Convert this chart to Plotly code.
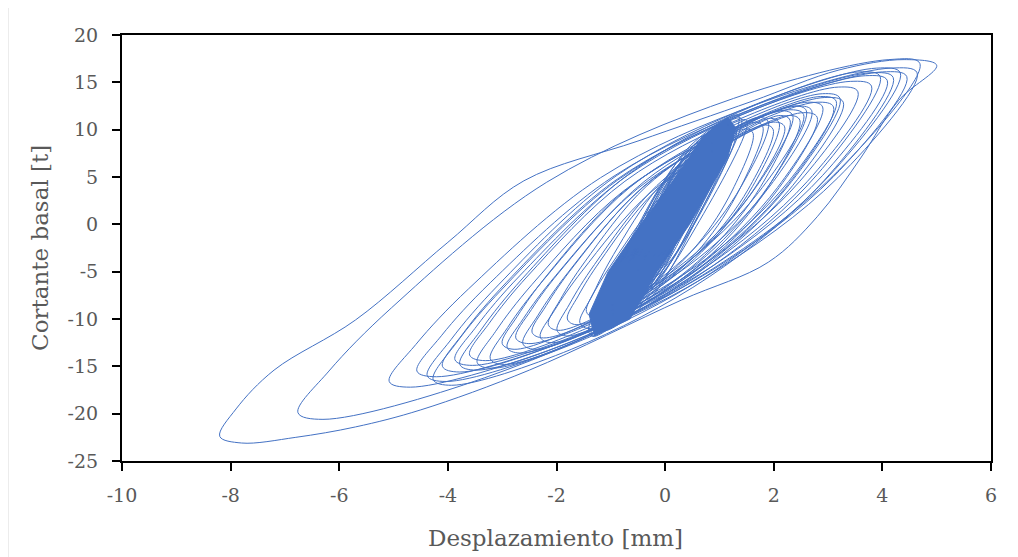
import plotly.graph_objects as go

# ---- data (displacement in mm, base shear in t) ----
# two outermost hysteresis loops
outer_disp = [-8.2, -7.8, -6.8, -5.7, -4.5, -2.5, 0.3, 1.9, 2.8, 3.6, 4.3, 5.0, 4.4, 3.2, 1.6, -0.5, -2.6, -4.0, -5.7, -7.2, -7.9, -8.2, None,
              -6.76, -6.30, -3.32, 0.11, 2.97, 4.69, 4.12, 1.26, -2.18, -5.04, -6.19, -6.76, None]
outer_shear = [-22.4, -23.1, -22.5, -21.4, -19.6, -15.4, -8.0, -4.0, 0.8, 7.0, 13.1, 16.8, 17.4, 16.3, 13.0, 8.8, 4.6, -1.9, -10.1, -15.4, -19.5, -22.4, None,
               -19.9, -20.6, -16.2, -7.35, 4.45, 17.0, 17.4, 13.3, 4.45, -8.83, -15.5, -19.9, None]

# intermediate loops
mid_disp = [
    -5.08, -4.69, -2.16, 0.75, 3.18, 4.64, 4.15, 1.72, -1.19, -3.62, -4.59, -5.08, None,
    -4.57, -4.21, -1.86, 0.84, 3.10, 4.45, 4.0, 1.74, -0.96, -3.22, -4.12, -4.57, None,
    -4.38, -4.03, -1.77, 0.85, 3.02, 4.33, 3.89, 1.72, -0.90, -3.07, -3.94, -4.38, None,
    -4.27, -3.93, -1.73, 0.81, 2.93, 4.2, 3.78, 1.66, -0.88, -3.0, -3.85, -4.27, None,
    -4.1, -3.78, -1.73, 0.64, 2.62, 3.8, 3.41, 1.43, -0.94, -2.92, -3.71, -4.1, None,
    -3.87, -3.55, -1.48, 0.91, 2.90, 4.09, 3.69, 1.70, -0.69, -2.68, -3.47, -3.87, None,
    -3.78, -3.47, -1.46, 0.86, 2.80, 3.96, 3.57, 1.64, -0.68, -2.62, -3.39, -3.78, None,
    -3.6, -3.31, -1.46, 0.69, 2.48, 3.55, 3.19, 1.41, -0.74, -2.53, -3.24, -3.6, None,
    -3.46, -3.19, -1.44, 0.58, 2.27, 3.28, 2.94, 1.26, -0.76, -2.45, -3.12, -3.46, None,
    -3.22, -2.96, -1.29, 0.64, 2.25, 3.22, 2.90, 1.29, -0.64, -2.25, -2.90, -3.22, None,
    -3.0, -2.78, -1.34, 0.33, 1.72, 2.55, 2.27, 0.89, -0.78, -2.17, -2.72, -3.0, None,
    -2.91, -2.67, -1.11, 0.70, 2.20, 3.1, 2.80, 1.30, -0.51, -2.01, -2.61, -2.91, None,
    -2.75, -2.51, -0.98, 0.79, 2.27, 3.15, 2.86, 1.38, -0.39, -1.87, -2.46, -2.75, None,
    -2.62, -2.40, -0.96, 0.69, 2.07, 2.9, 2.62, 1.24, -0.41, -1.79, -2.34, -2.62, None,
    -2.45, -2.24, -0.91, 0.64, 1.93, 2.7, 2.44, 1.16, -0.39, -1.68, -2.19, -2.45, None,
    -2.3, -2.10, -0.77, 0.76, 2.04, 2.8, 2.55, 1.27, -0.26, -1.53, -2.04, -2.3, None,
    -2.15, -1.97, -0.80, 0.55, 1.68, 2.35, 2.13, 1.0, -0.35, -1.48, -1.93, -2.15, None,
    -1.99, -1.81, -0.61, 0.76, 1.91, 2.6, 2.37, 1.22, -0.15, -1.30, -1.76, -1.99, None,
    -1.8, -1.64, -0.6, 0.6, 1.6, 2.2, 2.0, 1.0, -0.2, -1.2, -1.6, -1.8, None,
    -1.57, -1.41, -0.35, 0.86, 1.87, 2.48, 2.28, 1.27, 0.05, -0.96, -1.37, -1.57, None,
    -1.45, -1.32, -0.45, 0.56, 1.40, 1.9, 1.73, 0.90, -0.11, -0.95, -1.28, -1.45, None,
    -1.33, -1.18, -0.24, 0.85, 1.76, 2.3, 2.12, 1.21, 0.12, -0.79, -1.15, -1.33, None,
    -1.2, -1.07, -0.21, 0.78, 1.61, 2.1, 1.94, 1.11, 0.12, -0.70, -1.03, -1.2, None,
    -1.1, -0.98, -0.17, 0.75, 1.53, 1.99, 1.84, 1.06, 0.14, -0.64, -0.95, -1.1, None,
    -1.0, -0.89, -0.16, 0.68, 1.38, 1.8, 1.66, 0.96, 0.12, -0.58, -0.86, -1.0, None,
    -0.9, -0.80, -0.14, 0.61, 1.24, 1.62, 1.49, 0.86, 0.11, -0.52, -0.77, -0.9, None,
]
mid_shear = [
    -16.6, -17.2, -13.34, -5.52, 4.92, 16.0, 16.5, 12.74, 4.92, -6.82, -12.69, -16.6, None,
    -15.5, -16.1, -12.39, -4.93, 5.03, 15.6, 16.1, 12.49, 5.03, -6.17, -11.77, -15.5, None,
    -16.0, -16.6, -12.8, -5.12, 5.12, 16.0, 16.5, 12.8, 5.12, -6.4, -12.16, -16.0, None,
    -16.4, -17.0, -13.21, -5.55, 4.65, 15.5, 16.0, 12.31, 4.65, -6.83, -12.57, -16.4, None,
    -15.0, -15.6, -12.04, -4.94, 4.54, 14.6, 15.1, 11.64, 4.54, -6.12, -11.45, -15.0, None,
    -14.3, -14.9, -11.35, -4.27, 5.17, 15.2, 15.7, 12.25, 5.17, -5.45, -10.76, -14.3, None,
    -14.8, -15.4, -11.76, -4.46, 5.26, 15.6, 16.1, 12.56, 5.26, -5.68, -11.15, -14.8, None,
    -13.8, -14.4, -11.02, -4.35, 4.55, 14.0, 14.5, 11.22, 4.55, -5.46, -10.46, -13.8, None,
    -14.6, -15.2, -11.85, -5.25, 3.55, 12.9, 13.4, 10.15, 3.55, -6.35, -11.3, -14.6, None,
    -14.2, -14.8, -11.45, -4.85, 3.95, 13.3, 13.8, 10.55, 3.95, -5.95, -10.9, -14.2, None,
    -12.6, -13.2, -10.18, -4.37, 3.37, 11.6, 12.1, 9.18, 3.37, -5.34, -9.7, -12.6, None,
    -13.0, -13.6, -10.46, -4.36, 3.76, 12.4, 12.9, 9.86, 3.76, -5.38, -9.95, -13.0, None,
    -12.0, -12.6, -9.5, -3.5, 4.5, 13.0, 13.5, 10.5, 4.5, -4.5, -9.0, -12.0, None,
    -12.6, -13.2, -10.1, -4.1, 3.9, 12.4, 12.9, 9.9, 3.9, -5.1, -9.6, -12.6, None,
    -11.4, -12.0, -9.06, -3.44, 4.04, 12.0, 12.5, 9.66, 4.04, -4.38, -8.59, -11.4, None,
    -11.9, -12.5, -9.58, -4.01, 3.41, 11.3, 11.8, 8.98, 3.41, -4.94, -9.12, -11.9, None,
    -10.6, -11.2, -8.39, -3.09, 3.99, 11.5, 12.0, 9.29, 3.99, -3.97, -7.95, -10.6, None,
    -11.2, -11.8, -8.88, -3.31, 4.11, 12.0, 12.5, 9.68, 4.11, -4.24, -8.42, -11.2, None,
    -10.0, -10.6, -7.97, -3.1, 3.4, 10.3, 10.8, 8.27, 3.4, -3.91, -7.56, -10.0, None,
    -10.4, -11.0, -8.26, -3.12, 3.72, 11.0, 11.5, 8.86, 3.72, -3.98, -7.83, -10.4, None,
    -9.2, -9.8, -7.2, -2.4, 4.0, 10.8, 11.3, 8.8, 4.0, -3.2, -6.8, -9.2, None,
    -9.6, -10.2, -7.54, -2.6, 4.0, 11.0, 11.5, 8.94, 4.0, -3.42, -7.13, -9.6, None,
    -9.0, -9.6, -7.03, -2.3, 4.0, 10.7, 11.2, 8.73, 4.0, -3.09, -6.64, -9.0, None,
    -8.5, -9.1, -6.65, -2.21, 3.71, 10.0, 10.5, 8.15, 3.71, -2.95, -6.28, -8.5, None,
    -8.8, -9.4, -6.89, -2.31, 3.81, 10.3, 10.8, 8.39, 3.81, -3.07, -6.51, -8.8, None,
    -8.0, -8.6, -6.24, -2.02, 3.62, 9.6, 10.1, 7.84, 3.62, -2.72, -5.89, -8.0, None,
]

# small loops of the dense core
core_disp = [
    -1.3, -0.43, 0.40, 1.2, 0.33, -0.48, -1.3, None,
    -1.1, -0.23, 0.60, 1.4, 0.53, -0.28, -1.1, None,
    -0.9, -0.24, 0.39, 1.0, 0.34, -0.27, -0.9, None,
    -1.2, -0.40, 0.36, 1.1, 0.30, -0.44, -1.2, None,
    -0.7, -0.14, 0.42, 0.9, 0.34, -0.17, -0.7, None,
    -1.0, -0.20, 0.61, 1.3, 0.50, -0.24, -1.0, None,
    -0.5, -0.12, 0.27, 0.6, 0.22, -0.14, -0.5, None,
    -0.8, -0.24, 0.32, 0.8, 0.24, -0.27, -0.8, None,
    -0.3, -0.06, 0.18, 0.4, 0.16, -0.07, -0.3, None,
    -1.4, -0.39, 0.57, 1.5, 0.49, -0.44, -1.4, None,
    -0.6, 0.00, 0.59, 1.1, 0.51, -0.04, -0.6, None,
    -1.1, -0.47, 0.16, 0.7, 0.07, -0.51, -1.1, None,
    -0.9, -0.17, 0.57, 1.2, 0.47, -0.21, -0.9, None,
    -0.4, -0.09, 0.23, 0.5, 0.19, -0.10, -0.4, None,
    -1.2, -0.47, 0.27, 0.9, 0.17, -0.51, -1.2, None,
    -1.25, -0.34, 0.52, 1.35, 0.44, -0.39, -1.25, None,
    -0.95, -0.285, 0.34, 0.95, 0.285, -0.32, -0.95, None,
    -0.75, -0.085, 0.54, 1.15, 0.485, -0.12, -0.75, None,
    -1.35, -0.58, 0.15, 0.85, 0.08, -0.62, -1.35, None,
    -0.55, -0.095, 0.33, 0.75, 0.295, -0.12, -0.55, None,
    -1.15, -0.31, 0.48, 1.25, 0.41, -0.36, -1.15, None,
]
core_shear = [
    -11.0, -7.78, -0.25, 10.5, 7.28, -0.25, -11.0, None,
    -9.5, -6.4, 0.85, 11.2, 8.1, 0.85, -9.5, None,
    -8.0, -5.45, 0.5, 9.0, 6.45, 0.5, -8.0, None,
    -10.0, -7.08, -0.25, 9.5, 6.58, -0.25, -10.0, None,
    -6.5, -4.33, 0.75, 8.0, 5.83, 0.75, -6.5, None,
    -8.5, -5.73, 0.75, 10.0, 7.23, 0.75, -8.5, None,
    -5.0, -3.35, 0.5, 6.0, 4.35, 0.5, -5.0, None,
    -7.5, -5.33, -0.25, 7.0, 4.83, -0.25, -7.5, None,
    -3.0, -1.95, 0.5, 4.0, 2.95, 0.5, -3.0, None,
    -11.5, -8.13, -0.25, 11.0, 7.63, -0.25, -11.5, None,
    -6.0, -3.57, 2.1, 10.2, 7.77, 2.1, -6.0, None,
    -10.5, -7.95, -2.0, 6.5, 3.95, -2.0, -10.5, None,
    -9.0, -6.0, 1.0, 11.0, 8.0, 1.0, -9.0, None,
    -4.0, -2.65, 0.5, 5.0, 3.65, 0.5, -4.0, None,
    -9.0, -6.38, -0.25, 8.5, 5.88, -0.25, -9.0, None,
    -10.8, -7.46, 0.35, 11.5, 8.16, 0.35, -10.8, None,
    -9.8, -6.9, -0.15, 9.5, 6.6, -0.15, -9.8, None,
    -7.0, -4.33, 1.9, 10.8, 8.13, 1.9, -7.0, None,
    -11.8, -8.83, -1.9, 8.0, 5.03, -1.9, -11.8, None,
    -6.8, -4.88, -0.4, 6.0, 4.08, -0.4, -6.8, None,
    -11.2, -8.02, -0.6, 10.0, 6.82, -0.6, -11.2, None,
]

# outline of the region that the many overlapping small cycles fill solid
band_disp = [-1.3, -1.4, -1.05, -0.45, 0.2, 0.7, 1.15, 1.3, 1.15, 0.45, -0.15, -0.65, -1.3]
band_shear = [-11.8, -9.5, -5.0, 0.0, 5.0, 9.3, 11.3, 10.2, 7.0, 0.0, -5.0, -10.0, -11.8]

x_ticks = [-10, -8, -6, -4, -2, 0, 2, 4, 6]
x_tick_text = ["-10", "-8", "-6", "-4", "-2", "0", "2", "4", "6"]
y_ticks = [-25, -20, -15, -10, -5, 0, 5, 10, 15, 20]
y_tick_text = ["-25", "-20", "-15", "-10", "-5", "0", "5", "10", "15", "20"]

# ---- figure ----
BLUE = "#4472C4"
GREY = "#595959"
FONT = "DejaVu Serif"

fig = go.Figure()
fig.add_trace(go.Scatter(x=band_disp, y=band_shear, mode="lines", fill="toself",
                         fillcolor=BLUE, line=dict(color=BLUE, width=1),
                         hoverinfo="skip"))
for xs, ys in [(outer_disp, outer_shear), (mid_disp, mid_shear), (core_disp, core_shear)]:
    fig.add_trace(go.Scatter(x=xs, y=ys, mode="lines",
                             line=dict(color=BLUE, width=1, shape="spline", smoothing=1.0),
                             connectgaps=False))

axis_common = dict(showgrid=False, zeroline=False, showline=True, linecolor="black",
                   linewidth=2, mirror=True, ticks="outside", ticklen=8, tickwidth=2,
                   tickcolor="black", tickfont=dict(family=FONT, size=19, color=GREY))

fig.update_xaxes(range=[-10, 6], tickvals=x_ticks, ticktext=x_tick_text,
                 ticklabelstandoff=8, **axis_common)
fig.update_yaxes(range=[-25, 20], tickvals=y_ticks, ticktext=y_tick_text,
                 ticklabelstandoff=10, **axis_common)

# the page body adds an 8px offset, so the figure is drawn 8px smaller
fig.update_layout(
    width=1010, height=549,
    margin=dict(l=114, r=27, t=27, b=96),
    paper_bgcolor="white", plot_bgcolor="white",
    showlegend=False,
    annotations=[
        dict(text="Desplazamiento [mm]", xref="paper", yref="paper", x=0.4994, y=-0.181,
             showarrow=False, font=dict(family=FONT, size=23, color=GREY),
             xanchor="center", yanchor="middle"),
        dict(text="Cortante basal [t]", xref="paper", yref="paper", x=-0.0944, y=0.5,
             showarrow=False, textangle=-90, font=dict(family=FONT, size=23, color=GREY),
             xanchor="center", yanchor="middle"),
    ],
    shapes=[dict(type="rect", xref="paper", yref="paper", x0=-0.1312, x1=1.06,
                 y0=-0.3, y1=1.0704, line=dict(color="#d9d9d9", width=1), layer="below")],
)

fig.write_html("out.html")
